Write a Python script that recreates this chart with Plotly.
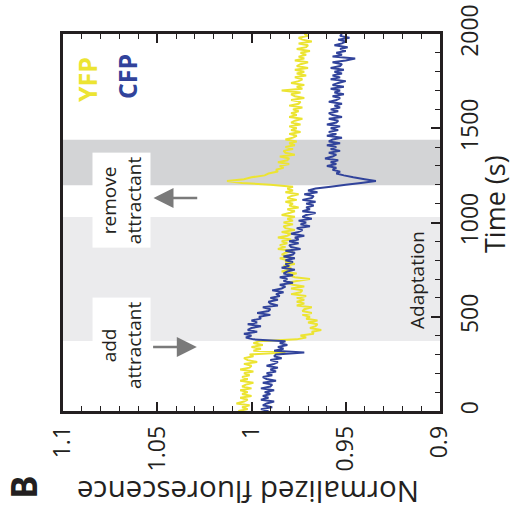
import plotly.graph_objects as go

# ---------------- data ----------------
time_s = list(range(0, 2001, 10))  # sampling grid, seconds

yfp = [
    1.007, 1.002, 1.005, 1.001, 1.008, 1.004, 1.002, 1.006, 1.000, 1.005,
    1.002, 1.006, 1.000, 1.005, 1.003, 0.999, 1.006, 1.002, 1.005, 1.001,
    1.004, 0.999, 1.006, 1.001, 1.000, 1.004, 0.997, 1.002, 1.004, 0.999,
    1.001, 0.982, 0.999, 0.995, 1.000, 0.994, 0.999, 0.996, 0.976, 0.971,
    0.974, 0.967, 0.968, 0.963, 0.969, 0.966, 0.965, 0.970, 0.965, 0.971,
    0.969, 0.973, 0.968, 0.973, 0.972, 0.968, 0.976, 0.972, 0.976, 0.972,
    0.976, 0.971, 0.979, 0.974, 0.973, 0.979, 0.972, 0.978, 0.981, 0.976,
    0.969, 0.977, 0.980, 0.976, 0.984, 0.980, 0.979, 0.983, 0.977, 0.982,
    0.981, 0.985, 0.979, 0.984, 0.982, 0.978, 0.986, 0.982, 0.985, 0.981,
    0.984, 0.979, 0.986, 0.981, 0.979, 0.984, 0.977, 0.982, 0.983, 0.978,
    0.983, 0.978, 0.981, 0.977, 0.984, 0.980, 0.977, 0.981, 0.975, 0.980,
    0.978, 0.982, 0.976, 0.981, 0.979, 0.975, 0.982, 0.978, 0.981, 0.978,
    0.990, 1.005, 1.013, 1.004, 1.000, 0.993, 0.991, 0.986, 0.987, 0.983,
    0.985, 0.980, 0.986, 0.981, 0.980, 0.985, 0.977, 0.982, 0.983, 0.978,
    0.982, 0.977, 0.980, 0.976, 0.982, 0.978, 0.976, 0.980, 0.974, 0.979,
    0.976, 0.980, 0.974, 0.979, 0.977, 0.973, 0.980, 0.976, 0.979, 0.975,
    0.978, 0.973, 0.980, 0.975, 0.974, 0.979, 0.972, 0.977, 0.979, 0.974,
    0.984, 0.973, 0.976, 0.972, 0.979, 0.975, 0.973, 0.977, 0.971, 0.976,
    0.972, 0.977, 0.970, 0.976, 0.974, 0.970, 0.977, 0.972, 0.975, 0.971,
    0.974, 0.969, 0.976, 0.971, 0.970, 0.975, 0.968, 0.973, 0.975, 0.970,
    0.972,
]

cfp = [
    0.991, 0.995, 0.989, 0.994, 0.992, 0.988, 0.995, 0.991, 0.994, 0.990,
    0.993, 0.988, 0.995, 0.990, 0.989, 0.994, 0.987, 0.992, 0.994, 0.989,
    0.992, 0.987, 0.990, 0.986, 0.992, 0.988, 0.986, 0.990, 0.984, 0.988,
    0.987, 0.972, 0.988, 0.983, 0.986, 0.981, 0.985, 0.982, 0.999, 1.003,
    1.000, 1.004, 0.997, 1.002, 1.000, 0.995, 1.002, 0.997, 1.000, 0.995,
    0.996, 0.990, 0.997, 0.991, 0.990, 0.994, 0.986, 0.990, 0.991, 0.986,
    0.990, 0.985, 0.987, 0.983, 0.989, 0.984, 0.982, 0.985, 0.978, 0.983,
    0.981, 0.985, 0.978, 0.983, 0.981, 0.977, 0.984, 0.980, 0.982, 0.978,
    0.982, 0.977, 0.983, 0.978, 0.977, 0.982, 0.974, 0.979, 0.980, 0.975,
    0.980, 0.975, 0.977, 0.972, 0.979, 0.975, 0.973, 0.976, 0.969, 0.974,
    0.971, 0.975, 0.968, 0.973, 0.971, 0.966, 0.973, 0.969, 0.971, 0.967,
    0.971, 0.966, 0.973, 0.968, 0.967, 0.972, 0.965, 0.970, 0.966, 0.958,
    0.950, 0.942, 0.934, 0.940, 0.946, 0.951, 0.955, 0.953, 0.957, 0.955,
    0.960, 0.955, 0.958, 0.954, 0.961, 0.957, 0.955, 0.959, 0.953, 0.958,
    0.955, 0.960, 0.953, 0.959, 0.957, 0.952, 0.960, 0.955, 0.959, 0.954,
    0.958, 0.953, 0.960, 0.955, 0.954, 0.959, 0.952, 0.957, 0.959, 0.954,
    0.958, 0.953, 0.956, 0.952, 0.959, 0.955, 0.953, 0.957, 0.951, 0.956,
    0.953, 0.958, 0.951, 0.957, 0.954, 0.950, 0.958, 0.953, 0.957, 0.952,
    0.956, 0.951, 0.958, 0.953, 0.952, 0.957, 0.950, 0.945, 0.957, 0.952,
    0.955, 0.950, 0.953, 0.949, 0.956, 0.952, 0.950, 0.954, 0.948, 0.953,
    0.952,
]

fluor_ticks = [1.1, 1.05, 1.0, 0.95, 0.9]
fluor_labels = ["1.1", "1.05", "1", "0.95", "0.9"]
time_ticks = [0, 500, 1000, 1500, 2000]
time_labels = ["0", "500", "1000", "1500", "2000"]

adaptation_span = [371, 1029]
removal_span = [1197, 1439]

# ---------------- styling ----------------
FONT = "Open Sans"
YELLOW = "#ECE432"
BLUE = "#31439B"
DARK = "#231F20"
AXIS = "#231F20"

fig = go.Figure()
fig.add_trace(go.Scatter(x=yfp, y=time_s, mode="lines", name="YFP",
                         line=dict(color=YELLOW, width=2.0, simplify=False), showlegend=False))
fig.add_trace(go.Scatter(x=cfp, y=time_s, mode="lines", name="CFP",
                         line=dict(color=BLUE, width=2.0, simplify=False), showlegend=False))

fig.add_shape(type="rect", xref="paper", yref="y", x0=0, x1=1,
              y0=adaptation_span[0], y1=adaptation_span[1],
              fillcolor="#EBEBED", line=dict(width=0), layer="below")
fig.add_shape(type="rect", xref="paper", yref="y", x0=0, x1=1,
              y0=removal_span[0], y1=removal_span[1],
              fillcolor="#D3D4D6", line=dict(width=0), layer="below")

fig.update_layout(
    width=514, height=514,
    margin=dict(l=63, r=74, t=34, b=103, autoexpand=False),
    paper_bgcolor="white", plot_bgcolor="white",
    font=dict(family=FONT, color=DARK),
    xaxis=dict(
        range=[1.1, 0.9], tickvals=fluor_ticks, ticktext=fluor_labels,
        ticks="inside", ticklen=9, tickwidth=1.5, tickcolor=AXIS,
        minor=dict(dtick=0.01, ticks="inside", ticklen=5, tickwidth=1.2, tickcolor=AXIS),
        showline=True, linewidth=2.5, linecolor=AXIS, mirror="ticks",
        showgrid=False, zeroline=False, tickangle=-90, automargin=False,
        tickfont=dict(family=FONT, size=23, color=DARK),
        ticklabelstandoff=3,
    ),
    yaxis=dict(
        range=[0, 2000], tickvals=time_ticks, ticktext=time_labels, side="right",
        ticks="inside", ticklen=9, tickwidth=1.5, tickcolor=AXIS,
        minor=dict(dtick=100, ticks="inside", ticklen=5, tickwidth=1.2, tickcolor=AXIS),
        showline=True, linewidth=2.5, linecolor=AXIS, mirror=True,
        showgrid=False, zeroline=False, tickangle=-90, automargin=False,
        tickfont=dict(family=FONT, size=23, color=DARK),
        ticklabelstandoff=8,
    ),
)

C = dict(xanchor="center", yanchor="middle", showarrow=False)
ann = []
# axis titles (positions relative to the plot area)
ann.append(dict(text="Time (s)", xref="paper", yref="paper", x=(495 - 63) / 377, y=(411 - 204) / 377,
                textangle=-90, font=dict(family=FONT, size=27, color=DARK), **C))
ann.append(dict(text="Normalized fluorescence", xref="paper", yref="paper",
                x=(248 - 63) / 377, y=(411 - 493) / 377,
                textangle=180, font=dict(family=FONT, size=29.5, color=DARK), **C))
ann.append(dict(text="<b>B</b>", xref="paper", yref="paper", x=(23 - 63) / 377, y=(411 - 487) / 377,
                textangle=-90, font=dict(family=FONT, size=35, color=DARK), **C))
# legend labels
ann.append(dict(text="<b>YFP</b>", x=1.0873, y=1761, textangle=-90,
                font=dict(family=FONT, size=25, color=YELLOW), **C))
ann.append(dict(text="<b>CFP</b>", x=1.066, y=1772, textangle=-90,
                font=dict(family=FONT, size=25, color=BLUE), **C))
# event labels
ann.append(dict(text="add<br>attractant", x=1.0692, y=350, textangle=-90,
                bgcolor="white", borderpad=3, font=dict(family=FONT, size=19, color=DARK), **C))
ann.append(dict(text="remove<br>attractant", x=1.0692, y=1119, textangle=-90,
                bgcolor="white", borderpad=3, font=dict(family=FONT, size=19, color=DARK), **C))
ann.append(dict(text="Adaptation", x=0.9122, y=695, textangle=-90,
                font=dict(family=FONT, size=19, color=DARK), **C))
# arrows
ann.append(dict(text="", x=1.029, y=340, ax=1.053, ay=340, axref="x", ayref="y",
                showarrow=True, arrowhead=2, arrowsize=1.6, arrowwidth=2.5, arrowcolor="#7A7A7A"))
ann.append(dict(text="", x=1.052, y=1130, ax=1.028, ay=1130, axref="x", ayref="y",
                showarrow=True, arrowhead=2, arrowsize=1.6, arrowwidth=2.5, arrowcolor="#7A7A7A"))

fig.update_layout(annotations=ann)
fig.write_html("out.html", config={"displayModeBar": False},
               post_script="document.body.style.margin='0';document.body.style.overflow='hidden';")
